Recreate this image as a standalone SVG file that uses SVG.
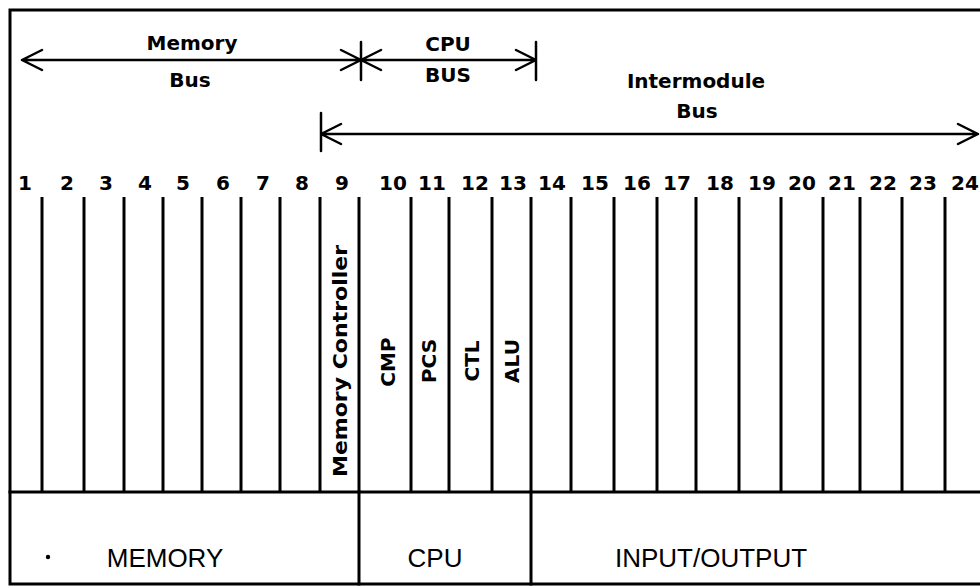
<svg xmlns="http://www.w3.org/2000/svg" width="980" height="586" viewBox="0 0 980 586">
<style>
.frame{stroke:#000;stroke-width:3;fill:none;stroke-linecap:square}
.slot{stroke:#000;stroke-width:3;fill:none}
.bus{stroke:#000;stroke-width:2.5;fill:none;stroke-linecap:round;stroke-linejoin:round}
.lbl{font-family:"DejaVu Sans",sans-serif;font-weight:bold;font-size:20px;fill:#000;text-anchor:middle}
.num{font-family:"DejaVu Sans",sans-serif;font-weight:bold;font-size:20px;fill:#000;text-anchor:middle}
.grp{font-family:"Liberation Sans",Arial,sans-serif;font-size:26px;fill:#000;text-anchor:middle}
</style>
<rect width="980" height="586" fill="#fff"/>
<g id="frame">
<path class="frame" d="M980,10 H10 V584 H980"/>
<path class="frame" d="M10,492 H980"/>
<path class="frame" d="M359,492 V584 M531,492 V584"/>
</g>
<g id="connectors">
<!-- Memory bus -->
<path class="bus" d="M22,60 H361 M42,50 L22,60 L42,70 M341,50 L361,60 L341,70"/>
<!-- CPU bus -->
<path class="bus" d="M361,60 H536 M381,50 L361,60 L381,70 M516,50 L536,60 L516,70 M361,42 V80 M536,42 V80"/>
<!-- Intermodule bus -->
<path class="bus" d="M321,134 H978 M341,124 L321,134 L341,144 M958,124 L978,134 L958,144 M321,113 V151"/>
</g>
<g id="bus-labels">
<text class="lbl" x="192" y="50">Memory</text>
<text class="lbl" x="190" y="87">Bus</text>
<text class="lbl" x="448" y="51">CPU</text>
<text class="lbl" x="448" y="82">BUS</text>
<text class="lbl" x="696" y="88">Intermodule</text>
<text class="lbl" x="697" y="118">Bus</text>
</g>
<g id="slots">
<path class="slot" d="M42,197 V492 M84,197 V492 M124,197 V492 M163,197 V492 M202,197 V492 M241,197 V492 M280,197 V492 M320,197 V492 M359,197 V492 M411,197 V492 M449,197 V492 M492,197 V492 M531,197 V492 M571,197 V492 M614,197 V492 M657,197 V492 M696,197 V492 M739,197 V492 M781,197 V492 M823,197 V492 M860,197 V492 M902,197 V492 M945,197 V492"/>
</g>
<g id="slot-numbers">
<text class="num" x="25" y="190">1</text>
<text class="num" x="67" y="190">2</text>
<text class="num" x="106" y="190">3</text>
<text class="num" x="145" y="190">4</text>
<text class="num" x="183" y="190">5</text>
<text class="num" x="223" y="190">6</text>
<text class="num" x="263" y="190">7</text>
<text class="num" x="302" y="190">8</text>
<text class="num" x="342" y="190">9</text>
<text class="num" x="393" y="190">10</text>
<text class="num" x="432" y="190">11</text>
<text class="num" x="475" y="190">12</text>
<text class="num" x="513" y="190">13</text>
<text class="num" x="552" y="190">14</text>
<text class="num" x="595" y="190">15</text>
<text class="num" x="637" y="190">16</text>
<text class="num" x="677" y="190">17</text>
<text class="num" x="720" y="190">18</text>
<text class="num" x="762" y="190">19</text>
<text class="num" x="802" y="190">20</text>
<text class="num" x="842" y="190">21</text>
<text class="num" x="883" y="190">22</text>
<text class="num" x="923" y="190">23</text>
<text class="num" x="965" y="190">24</text>
</g>
<g id="memory-controller">
<text class="lbl" transform="translate(347,361) rotate(-90)" textLength="232" lengthAdjust="spacingAndGlyphs">Memory Controller</text>
</g>
<g id="cmp"><text class="lbl" transform="translate(395,362) rotate(-90)">CMP</text></g>
<g id="pcs"><text class="lbl" transform="translate(436,361) rotate(-90)">PCS</text></g>
<g id="ctl"><text class="lbl" transform="translate(479,361) rotate(-90)">CTL</text></g>
<g id="alu"><text class="lbl" transform="translate(519,361) rotate(-90)">ALU</text></g>
<g id="memory">
<circle cx="48" cy="557" r="2.2" fill="#000"/>
<text class="grp" x="165" y="567">MEMORY</text>
</g>
<g id="cpu"><text class="grp" x="435" y="567">CPU</text></g>
<g id="io"><text class="grp" x="711" y="567">INPUT/OUTPUT</text></g>
</svg>
